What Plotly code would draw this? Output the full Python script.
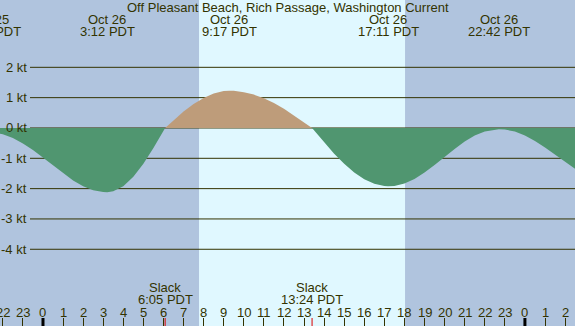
import plotly.graph_objects as go

# ---- data ----
hours = [-2.5, -2.0, -1.5, -1.0, -0.5, 0.0, 0.5, 1.0, 1.5, 2.0, 2.5, 3.0, 3.2, 3.5, 4.0, 4.5,
         5.0, 5.5, 6.0, 6.083, 6.5, 7.0, 7.5, 8.0, 8.5, 9.0, 9.283, 9.5, 10.0, 10.5, 11.0,
         11.5, 12.0, 12.5, 13.0, 13.4, 13.5, 14.0, 14.5, 15.0, 15.5, 16.0, 16.5, 17.0,
         17.183, 17.5, 18.0, 18.5, 19.0, 19.5, 20.0, 20.5, 21.0, 21.5, 22.0, 22.5, 22.7,
         23.0, 23.5, 24.0, 24.5, 25.0, 25.5, 26.0, 26.5, 27.0]
current_kt = [-0.15, -0.21, -0.33, -0.51, -0.73, -0.98, -1.25, -1.51, -1.73, -1.92, -2.05,
              -2.11, -2.12, -2.09, -1.92, -1.61, -1.18, -0.66, -0.10, 0.0, 0.25, 0.54, 0.79,
              0.99, 1.14, 1.22, 1.23, 1.23, 1.18, 1.10, 0.98, 0.82, 0.63, 0.41, 0.19, 0.0,
              -0.08, -0.47, -0.85, -1.18, -1.47, -1.69, -1.84, -1.91, -1.92, -1.91, -1.83,
              -1.68, -1.47, -1.22, -0.95, -0.69, -0.45, -0.25, -0.12, -0.05, -0.04, -0.05,
              -0.12, -0.25, -0.43, -0.64, -0.88, -1.12, -1.35, -1.56]

event_hours = [-2.633, 3.2, 9.283, 17.183, 22.7]
event_dates = ["Oct 25", "Oct 26", "Oct 26", "Oct 26", "Oct 26"]
event_times = ["21:22 PDT", "3:12 PDT", "9:17 PDT", "17:11 PDT", "22:42 PDT"]

slack_hours = [6.083, 13.4]
slack_times = ["6:05 PDT", "13:24 PDT"]

sunrise, sunset = 7.77, 18.03
midnights = [0, 24]

hour_ticks = list(range(-2, 27))
hour_labels = ["22", "23", "0", "1", "2", "3", "4", "5", "6", "7", "8", "9", "10", "11",
               "12", "13", "14", "15", "16", "17", "18", "19", "20", "21", "22", "23",
               "0", "1", "2"]

kt_levels = [2, 1, 0, -1, -2, -3, -4]
kt_labels = ["2 kt", "1 kt", "0 kt", "-1 kt", "-2 kt", "-3 kt", "-4 kt"]

title = "Off Pleasant Beach, Rich Passage, Washington Current"

# ---- style ----
W, H = 575, 326
NIGHT = "#B0C4DE"
DAY = "#E0F8FF"
EBB = "#509670"
FLOOD = "#BE9C7A"
INK = "#333300"
FONT = "Liberation Sans"
XR = [-2.141, 26.494]
YR = [-6.53, 4.22]

fig = go.Figure()

# split into segments at slack times
s1, s2 = slack_hours
seg_a = [(t, v) for t, v in zip(hours, current_kt) if t <= s1]
seg_b = [(t, v) for t, v in zip(hours, current_kt) if s1 <= t <= s2]
seg_c = [(t, v) for t, v in zip(hours, current_kt) if t >= s2]
for seg, col in [(seg_a, EBB), (seg_b, FLOOD), (seg_c, EBB)]:
    fig.add_trace(go.Scatter(x=[p[0] for p in seg], y=[p[1] for p in seg], mode="lines",
                             line=dict(width=0, color=col), fill="tozeroy", fillcolor=col,
                             hoverinfo="skip", showlegend=False))

shapes = [dict(type="rect", xref="x", yref="paper", x0=sunrise, x1=sunset, y0=0, y1=1,
               fillcolor=DAY, line_width=0, layer="below")]
for lv in kt_levels:
    shapes.append(dict(type="line", xref="paper", yref="y", x0=30 / W, x1=1, y0=lv, y1=lv,
                       line=dict(color=INK, width=1), layer="below"))
tick_h = 8 / H
for m in midnights:
    shapes.append(dict(type="line", xref="x", yref="paper", x0=m, x1=m, y0=0, y1=tick_h,
                       line=dict(color="#000000", width=3), layer="above"))
for s in slack_hours:
    shapes.append(dict(type="line", xref="x", yref="paper", x0=s, x1=s, y0=0, y1=tick_h,
                       line=dict(color="#DD0000", width=1), layer="above"))

def py(px):
    return 1 - px / H

ann = []
f = dict(family=FONT, size=13, color=INK)
ann.append(dict(text=title, xref="paper", yref="paper", x=0.5, y=py(7.5), showarrow=False,
                xanchor="center", yanchor="middle", font=f))
for t, d, tm in zip(event_hours, event_dates, event_times):
    xp = (t - XR[0]) / (XR[1] - XR[0])
    ann.append(dict(text=d, xref="paper", yref="paper", x=xp, y=py(20), showarrow=False,
                    xanchor="center", yanchor="middle", font=f))
    ann.append(dict(text=tm, xref="paper", yref="paper", x=xp, y=py(32), showarrow=False,
                    xanchor="center", yanchor="middle", font=f))
for t, tm in zip(slack_hours, slack_times):
    xp = (t - XR[0]) / (XR[1] - XR[0])
    ann.append(dict(text="Slack", xref="paper", yref="paper", x=xp, y=py(287.5),
                    showarrow=False, xanchor="center", yanchor="middle", font=f))
    ann.append(dict(text=tm, xref="paper", yref="paper", x=xp, y=py(299.5),
                    showarrow=False, xanchor="center", yanchor="middle", font=f))
for t, lab in zip(hour_ticks, hour_labels):
    xp = (t - XR[0]) / (XR[1] - XR[0])
    ann.append(dict(text=lab, xref="paper", yref="paper", x=xp, y=py(312), showarrow=False,
                    xanchor="center", yanchor="middle", font=f))
for lv, lab in zip(kt_levels, kt_labels):
    ann.append(dict(text=lab, xref="paper", yref="y", x=28.5 / W, y=lv, showarrow=False,
                    xanchor="right", yanchor="middle", font=f, xshift=0))

fig.update_layout(
    width=W, height=H, margin=dict(l=0, r=0, t=0, b=0),
    paper_bgcolor=NIGHT, plot_bgcolor=NIGHT,
    xaxis=dict(range=XR, showgrid=False, zeroline=False, showline=False,
               tickvals=hour_ticks, ticktext=[""] * len(hour_ticks),
               ticks="inside", ticklen=8, tickwidth=1, tickcolor=INK, fixedrange=True),
    yaxis=dict(range=YR, showgrid=False, zeroline=False, showline=False,
               showticklabels=False, fixedrange=True),
    shapes=shapes, annotations=ann, showlegend=False,
)

fig.write_html("out.html", config=dict(displayModeBar=False),
               post_script="document.body.style.margin='0';document.body.style.overflow='hidden';")
